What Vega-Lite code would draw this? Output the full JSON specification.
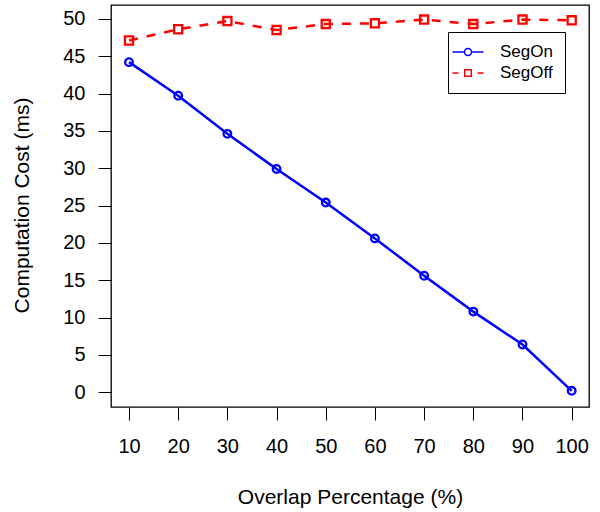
{
  "$schema": "https://vega.github.io/schema/vega-lite/v6.json",
  "autosize": "none",
  "width": 478,
  "height": 402,
  "padding": {"left": 111, "top": 5, "right": 11, "bottom": 105},
  "background": "white",
  "config": {
    "view": {"stroke": "black", "strokeWidth": 1.3},
    "font": "Liberation Sans",
    "axis": {"grid": false, "domain": false, "tickColor": "black", "tickWidth": 1, "tickSize": 13, "labelFont": "Liberation Sans", "labelFontSize": 20, "labelColor": "black", "titleFont": "Liberation Sans", "titleFontSize": 21, "titleFontWeight": "normal", "titleColor": "black"}
  },
  "data": {"values": [
    {"overlap": 10, "series": "SegOn", "cost": 44.2},
    {"overlap": 20, "series": "SegOn", "cost": 39.7},
    {"overlap": 30, "series": "SegOn", "cost": 34.6},
    {"overlap": 40, "series": "SegOn", "cost": 29.9},
    {"overlap": 50, "series": "SegOn", "cost": 25.4},
    {"overlap": 60, "series": "SegOn", "cost": 20.6},
    {"overlap": 70, "series": "SegOn", "cost": 15.6},
    {"overlap": 80, "series": "SegOn", "cost": 10.8},
    {"overlap": 90, "series": "SegOn", "cost": 6.4},
    {"overlap": 100, "series": "SegOn", "cost": 0.2},
    {"overlap": 10, "series": "SegOff", "cost": 47.1},
    {"overlap": 20, "series": "SegOff", "cost": 48.6},
    {"overlap": 30, "series": "SegOff", "cost": 49.7},
    {"overlap": 40, "series": "SegOff", "cost": 48.5},
    {"overlap": 50, "series": "SegOff", "cost": 49.3},
    {"overlap": 60, "series": "SegOff", "cost": 49.4},
    {"overlap": 70, "series": "SegOff", "cost": 49.9},
    {"overlap": 80, "series": "SegOff", "cost": 49.3},
    {"overlap": 90, "series": "SegOff", "cost": 49.9},
    {"overlap": 100, "series": "SegOff", "cost": 49.8}
  ]},
  "encoding": {
    "x": {"field": "overlap", "type": "quantitative",
      "scale": {"domain": [6.34, 103.52], "nice": false, "zero": false},
      "axis": {"values": [10, 20, 30, 40, 50, 60, 70, 80, 90, 100], "title": "Overlap Percentage (%)", "labelPadding": 16, "titleX": 239, "titleY": 96, "titleBaseline": "alphabetic", "titleAnchor": "middle"}},
    "y": {"field": "cost", "type": "quantitative",
      "scale": {"domain": [-1.97, 51.85], "nice": false, "zero": false},
      "axis": {"values": [0, 5, 10, 15, 20, 25, 30, 35, 40, 45, 50], "title": "Computation Cost (ms)", "labelPadding": 13, "titleX": -89, "titleY": 200, "titleBaseline": "middle", "titleAnchor": "middle"}},
    "color": {"field": "series", "type": "nominal",
      "scale": {"domain": ["SegOn", "SegOff"], "range": ["#0000FF", "#FF0000"]},
      "legend": {
        "title": null, "orient": "none", "legendX": 337, "legendY": 27,
        "strokeColor": "black", "fillColor": "white", "padding": 11.5,
        "symbolSize": 225, "symbolStrokeWidth": 1.5, "symbolFillColor": "transparent", "symbolOpacity": 1,
        "labelFont": "Liberation Sans", "labelFontSize": 17, "labelColor": "black",
        "labelOffset": 23.5, "rowPadding": 3
      }}
  },
  "layer": [
    {
      "transform": [{"filter": "datum.series === 'SegOn'"}],
      "mark": {"type": "line", "strokeWidth": 2.5}
    },
    {
      "transform": [{"filter": "datum.series === 'SegOff'"}],
      "mark": {"type": "line", "strokeWidth": 2.5, "strokeDash": [9, 9]}
    },
    {
      "transform": [{"filter": "datum.series === 'SegOn'"}],
      "mark": {"type": "point", "shape": "circle", "filled": false, "strokeWidth": 2.3, "opacity": 1, "size": 58}
    },
    {
      "transform": [{"filter": "datum.series === 'SegOff'"}],
      "mark": {"type": "point", "shape": "square", "filled": false, "strokeWidth": 2.3, "opacity": 1, "size": 66}
    },
    {
      "mark": {"type": "point", "filled": false, "opacity": 0},
      "encoding": {
        "shape": {"field": "series", "type": "nominal",
          "scale": {"domain": ["SegOn", "SegOff"], "range": [
            "M-2.07,0H-0.47M0.47,0A0.47,0.47,0,1,1,-0.47,0A0.47,0.47,0,1,1,0.47,0M0.47,0H2.07",
            "M-2.07,0H-1.27M-0.44,-0.44H0.44V0.44H-0.44ZM1.27,0H2.07"
          ]}}
      }
    }
  ]
}
